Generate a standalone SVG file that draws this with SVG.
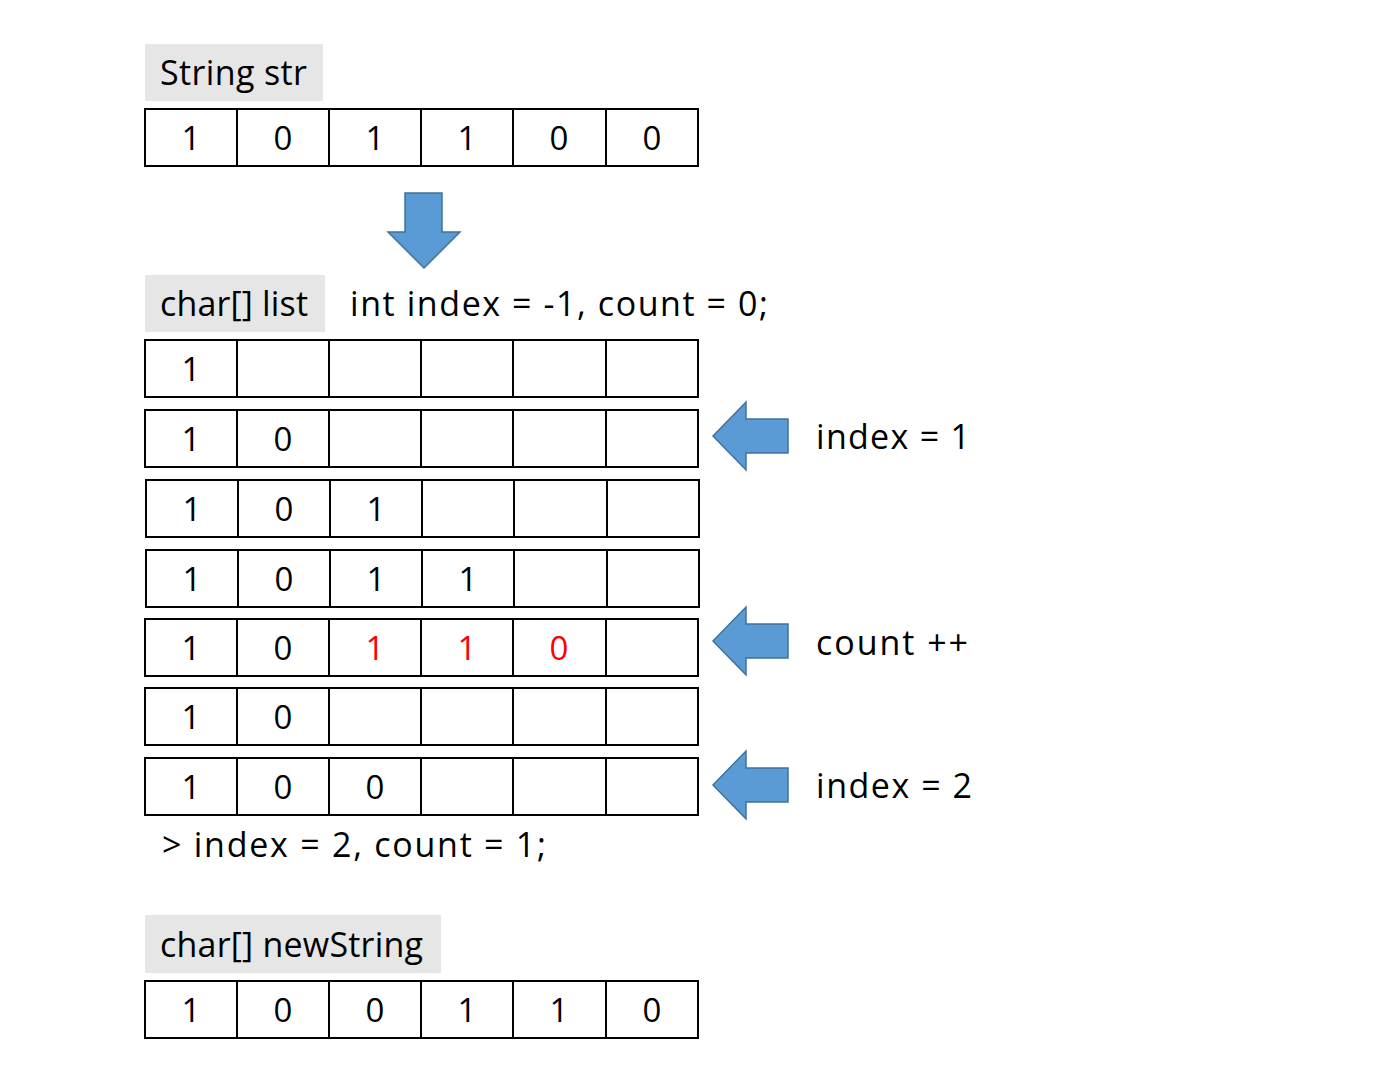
<svg xmlns="http://www.w3.org/2000/svg" width="1378" height="1080" viewBox="0 0 1378 1080">
<style>
text{font-family:"Open Sans","Noto Sans","Noto Sans CJK KR",sans-serif;font-size:34px;fill:#000}
.c{text-anchor:middle;font-size:33px}
.r{fill:#ff0000}
.cell{fill:#fff;stroke:#000;stroke-width:2}
.lbl{fill:#e6e6e6}
.arr{fill:#5b9bd5;stroke:#41719c;stroke-width:1.5}
</style>
<defs>
<g id="row">
<rect class="cell" x="0" y="0" width="92" height="57"/>
<rect class="cell" x="92" y="0" width="92" height="57"/>
<rect class="cell" x="184" y="0" width="92" height="57"/>
<rect class="cell" x="276" y="0" width="92" height="57"/>
<rect class="cell" x="368" y="0" width="93" height="57"/>
<rect class="cell" x="461" y="0" width="92" height="57"/>
</g>
<path id="larr" d="M0,0 L33,-34 L33,-17 L75,-17 L75,17 L33,17 L33,34 Z"/>
</defs>
<rect width="1378" height="1080" fill="#fff"/>

<g id="str">
<rect class="lbl" x="145" y="44" width="178" height="57"/>
<text x="160" y="85" textLength="147">String str</text>
<use href="#row" x="145" y="109"/>
<text class="c" x="191" y="150">1</text><text class="c" x="283" y="150">0</text><text class="c" x="375" y="150">1</text><text class="c" x="467" y="150">1</text><text class="c" x="559" y="150">0</text><text class="c" x="652" y="150">0</text>
</g>

<g id="connectors">
<path class="arr" d="M405,193 L442,193 L442,232 L460,232 L424,268 L388,232 L405,232 Z"/>
<use href="#larr" class="arr" x="713" y="436"/>
<use href="#larr" class="arr" x="713" y="641"/>
<use href="#larr" class="arr" x="713" y="785"/>
</g>

<g id="list">
<rect class="lbl" x="145" y="275" width="180" height="57"/>
<text x="160" y="316" textLength="148">char[] list</text>
<text x="350" y="316" textLength="418">int index = -1, count = 0;</text>
</g>

<g id="row1">
<use href="#row" x="145" y="340"/>
<text class="c" x="191" y="381">1</text>
</g>
<g id="row2">
<use href="#row" x="145" y="410"/>
<text class="c" x="191" y="451">1</text><text class="c" x="283" y="451">0</text>
</g>
<g id="row3">
<use href="#row" x="146" y="480"/>
<text class="c" x="192" y="521">1</text><text class="c" x="284" y="521">0</text><text class="c" x="376" y="521">1</text>
</g>
<g id="row4">
<use href="#row" x="146" y="550"/>
<text class="c" x="192" y="591">1</text><text class="c" x="284" y="591">0</text><text class="c" x="376" y="591">1</text><text class="c" x="468" y="591">1</text>
</g>
<g id="row5">
<use href="#row" x="145" y="619"/>
<text class="c" x="191" y="660">1</text><text class="c" x="283" y="660">0</text><text class="c r" x="375" y="660">1</text><text class="c r" x="467" y="660">1</text><text class="c r" x="559" y="660">0</text>
</g>
<g id="row6">
<use href="#row" x="145" y="688"/>
<text class="c" x="191" y="729">1</text><text class="c" x="283" y="729">0</text>
</g>
<g id="row7">
<use href="#row" x="145" y="758"/>
<text class="c" x="191" y="799">1</text><text class="c" x="283" y="799">0</text><text class="c" x="375" y="799">0</text>
</g>

<g id="notes">
<text x="816" y="449" textLength="154">index = 1</text>
<text x="816" y="655" textLength="152">count ++</text>
<text x="816" y="798" textLength="156">index = 2</text>
<text x="162" y="857" textLength="384">&gt; index = 2, count = 1;</text>
</g>

<g id="newString">
<rect class="lbl" x="145" y="915" width="296" height="58"/>
<text x="160" y="957" textLength="263">char[] newString</text>
<use href="#row" x="145" y="981"/>
<text class="c" x="191" y="1022">1</text><text class="c" x="283" y="1022">0</text><text class="c" x="375" y="1022">0</text><text class="c" x="467" y="1022">1</text><text class="c" x="559" y="1022">1</text><text class="c" x="652" y="1022">0</text>
</g>
</svg>
